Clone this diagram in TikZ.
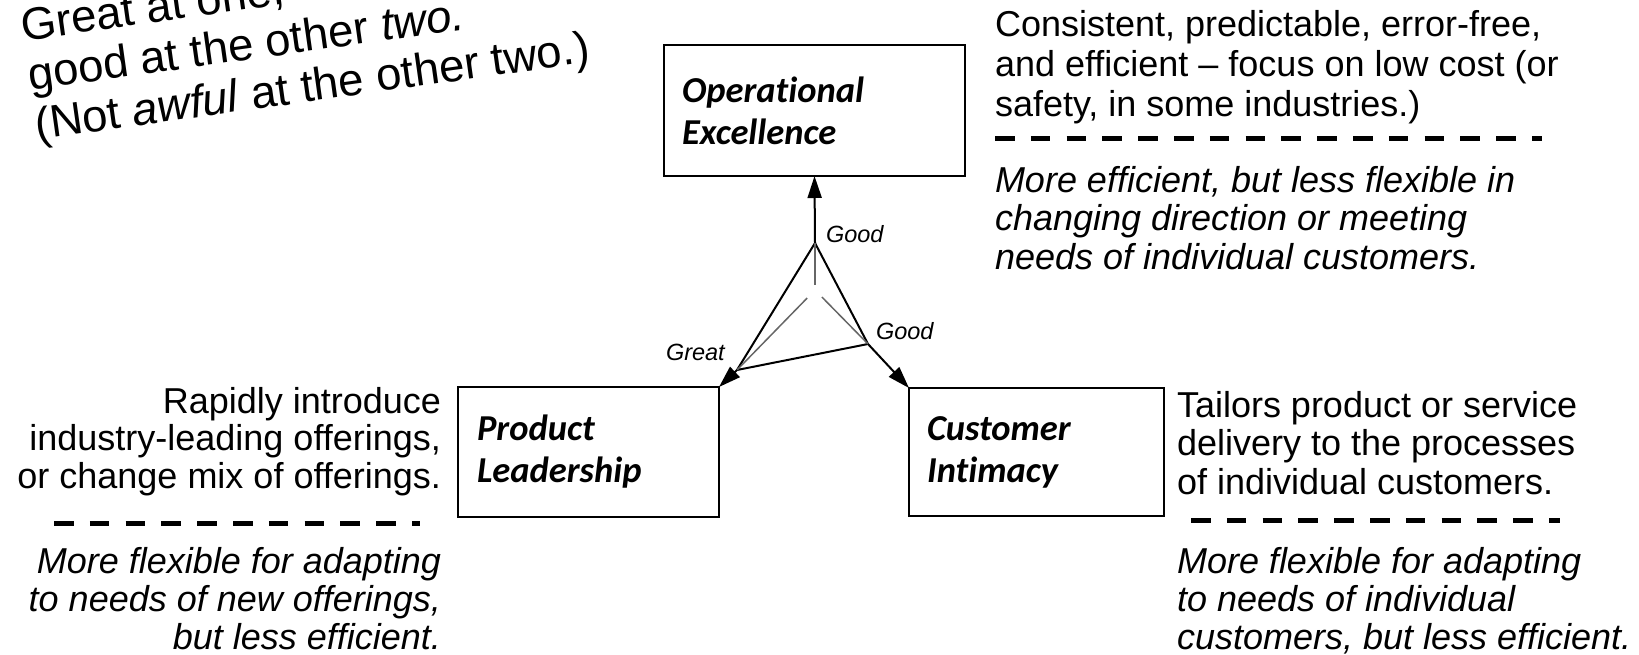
\documentclass[tikz,border=0pt]{standalone}
\usepackage{fontspec}
\setmainfont{Liberation Sans}
\newfontfamily\calib{Carlito}[Ligatures={NoCommon}]
\usetikzlibrary{arrows.meta,calc}
\begin{document}
\begin{tikzpicture}[x=1pt,y=-1pt,
  every node/.style={inner sep=0pt, outer sep=0pt},
  body/.style={font=\fontsize{36}{#1}\selectfont},
  ital/.style={font=\fontsize{36}{#1}\selectfont\itshape},
  boxnode/.style={draw, line width=2pt, anchor=north west, inner xsep=18pt, inner ysep=0pt,
    minimum height=#1, align=left, font=\calib\bfseries\itshape\fontsize{36.5}{42}\selectfont},
  sepline/.style={line width=5pt, dash pattern=on 19.5pt off 16.3pt},
  lbl/.style={font=\fontsize{23.5}{26}\selectfont\itshape, anchor=base west},
  tri/.style={line width=2pt, line join=round},
  innerline/.style={line width=1.5pt, draw=black!60},
  arr/.style={line width=2pt, -{Triangle[length=22pt,width=14pt]}},
  note/.style={font=\fontsize{45.5}{50}\selectfont, anchor=base west, rotate=8}
]
\useasboundingbox (0,0) rectangle (1639,654);
\clip (0,0) rectangle (1639,654);

% boxes
\node[boxnode=131pt, text width=265pt] (oe) at (664,45) {Operational\\Excellence};
\node[boxnode=130pt, text width=223pt, inner xsep=19pt] (pl) at (458,387) {Product\\Leadership};
\node[boxnode=128pt, text width=219pt] (ci) at (909,388) {Customer\\Intimacy};

% triangle
\coordinate (tv) at (815,243);
\coordinate (lv) at (737,370);
\coordinate (rv) at (868,344);
\coordinate (cc) at (815,290);
\draw[tri] (tv) -- (rv) -- (lv) -- cycle;
\draw[innerline] (tv) -- ($(tv)!0.89!(cc)$);
\draw[innerline] (lv) -- ($(lv)!0.9!(cc)$);
\draw[innerline] (rv) -- ($(rv)!0.87!(cc)$);
\draw[arr] (tv) -- (oe.south);
\draw[arr] (rv) -- (ci.north west);
\draw[arr] (lv) -- (pl.north east);

\node[lbl] (g1) at (826,242) {Good};
\node[lbl] (g2) at (876,339) {Good};
\node[lbl] (gr) at (666,360) {Great};

% right top (anchor = baseline of last line)
\node[body=40, anchor=base west, align=left] (rt) at (995,116)
  {Consistent, predictable, error-free,\\and efficient – focus on low cost (or\\safety, in some industries.)};
\draw[sepline] (995,138) -- (1542,138);
\node[ital=38.5, anchor=base west, align=left] (rti) at (995,269)
  {More efficient, but less flexible in\\changing direction or meeting\\needs of individual customers.};

% left
\node[body=37.5, anchor=base east, align=right] (lt) at (441,488)
  {Rapidly introduce\\industry-leading offerings,\\or change mix of offerings.};
\draw[sepline] (54,523) -- (420,523);
\node[ital=38, anchor=base east, align=right] (lti) at (441,649)
  {More flexible for adapting\\to needs of new offerings,\\but less efficient.};

% right bottom
\node[body=38.5, anchor=base west, align=left] (rb) at (1177,494)
  {Tailors product or service\\delivery to the processes\\of individual customers.};
\draw[sepline] (1191,520) -- (1560,520);
\node[ital=38, anchor=base west, align=left] (rbi) at (1177,649)
  {More flexible for adapting\\to needs of individual\\customers, but less efficient.};

% rotated note
\node[note] (n1) at (23,41) {Great at one,};
\node[note] (n2) at (30,90.5) {good at the other \textit{two.}};
\node[note] (n3) at (37,140) {(Not \textit{awful} at the other two.)};
\end{tikzpicture}
\end{document}
